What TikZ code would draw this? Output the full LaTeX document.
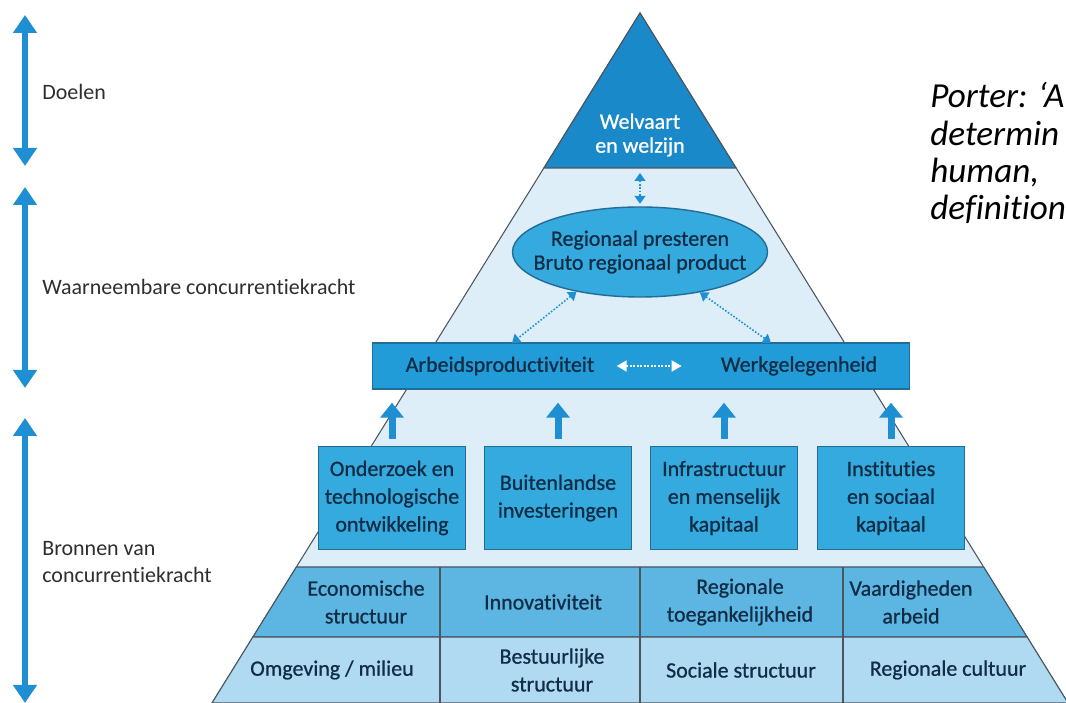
\documentclass[tikz,border=0pt]{standalone}
\usepackage{fontspec}
\setmainfont{Carlito}[Ligatures=NoCommon]
\newfontfamily\diagfont{Carlito}[Ligatures=NoCommon,FakeBold=0.8]
\usetikzlibrary{arrows.meta,positioning,shapes.geometric}
\definecolor{arr}{HTML}{1E8FD2}
\definecolor{topb}{HTML}{1A89CA}
\definecolor{boxb}{HTML}{35AADF}
\definecolor{barb}{HTML}{229CD8}
\definecolor{band}{HTML}{DDEEF8}
\definecolor{rowa}{HTML}{5DB5E1}
\definecolor{rowb}{HTML}{AFDAF1}
\definecolor{ink}{HTML}{112C45}
\definecolor{edge}{HTML}{4A5560}
\definecolor{boxedge}{HTML}{236C98}
\definecolor{lbl}{HTML}{2E2E2E}

\tikzset{
  dtext/.style={font=\diagfont\fontsize{12.5}{15.8}\selectfont,text=ink,align=center,inner sep=0pt},
  tight/.style={font=\diagfont\fontsize{12.5}{13.6}\selectfont},
  srcbox/.style={dtext,draw=boxedge,fill=boxb,line width=0.8pt,
    minimum width=29.4mm,minimum height=20.6mm},
  sidelbl/.style={font=\fontsize{12.5}{15}\selectfont,text=lbl,anchor=west,align=left,inner sep=0pt},
  sidearr/.style={draw=arr,line width=1.3mm,{Triangle[width=4.6mm,length=3.6mm]}-{Triangle[width=4.6mm,length=3.6mm]}},
  uparr/.style={draw=arr,line width=1.4mm,-{Triangle[width=4.6mm,length=3mm]}},
  linkarr/.style={draw=arr,line width=0.9pt,densely dotted,
    {Triangle[width=2.2mm,length=1.6mm]}-{Triangle[width=2.2mm,length=1.6mm]}},
  whitearr/.style={draw=white,line width=1pt,densely dotted,
    {Triangle[width=2.2mm,length=2mm]}-{Triangle[width=2.2mm,length=2mm]}},
  quote/.style={font=\fontsize{20}{22}\selectfont\itshape,anchor=base west,inner sep=0pt},
}

\begin{document}
\begin{tikzpicture}[x=0.2mm,y=-0.2mm]
  \useasboundingbox (0,0) rectangle (1066,703);
  \clip (0,0) rectangle (1066,703);

  % Left: levels
  \coordinate (a1t) at (25,15);  \coordinate (a1b) at (25,166);
  \coordinate (a2t) at (25,187); \coordinate (a2b) at (25,388);
  \coordinate (a3t) at (25,418); \coordinate (a3b) at (25,703);
  \draw[sidearr] (a1t) -- (a1b);
  \draw[sidearr] (a2t) -- (a2b);
  \draw[sidearr] (a3t) -- (a3b);
  \node[sidelbl] (doel) at (42,92) {Doelen};
  \node[sidelbl] (waarn) at (42,287) {Waarneembare concurrentiekracht};
  \node[sidelbl] (bron) at (42,562) {Bronnen van\\concurrentiekracht};

  % Pyramid
  \fill[band] (640,13) -- (212,703) -- (1068,703) -- cycle;
  \draw[edge,line width=0.6pt] (212,703) -- (640,13) -- (1068,703);
  \filldraw[fill=topb,draw=edge,line width=0.6pt] (640,13) -- (544,168) -- (736,168) -- cycle;
  \coordinate (topbase) at (640,168);
  \node[dtext,tight,text=white] (welv) at (640,135) {Welvaart\\en welzijn};

  \filldraw[fill=rowa,draw=edge,line width=0.6pt]
    (296.4,567) -- (983.6,567) -- (1027.1,637) -- (252.9,637) -- cycle;
  \filldraw[fill=rowb,draw=edge,line width=0.6pt]
    (252.9,637) -- (1027.1,637) -- (1068,703) -- (212,703) -- cycle;
  \draw[edge,line width=0.6pt] (440,567) -- (440,703) (640,567) -- (640,703) (843,567) -- (843,703);

  \node[dtext] (econ) at (366,602) {Economische\\structuur};
  \node[dtext] (innov) at (543,602) {Innovativiteit};
  \node[dtext] (toeg) at (740,602) {Regionale\\toegankelijkheid};
  \node[dtext] (vaard) at (911,602) {Vaardigheden\\arbeid};
  \node[dtext] (omg) at (332,670) {Omgeving / milieu};
  \node[dtext] (best) at (552,670) {Bestuurlijke\\structuur};
  \node[dtext] (soc) at (741,670) {Sociale structuur};
  \node[dtext] (cult) at (948,670) {Regionale cultuur};

  % Performance
  \node[ellipse,draw=boxedge,fill=boxb,line width=0.8pt,inner sep=0pt,
        minimum width=51mm,minimum height=18mm] (ell) at (640,252) {};
  \node[dtext,tight] (elltxt) at (ell.center) {Regionaal presteren\\Bruto regionaal product};
  \draw[linkarr,shorten <=1mm,shorten >=0.5mm] (topbase) -- (ell.north);

  \node[draw=boxedge,fill=barb,line width=0.8pt,minimum width=107.4mm,
        minimum height=9.2mm,inner sep=0pt] (bar) at (641,366) {};
  \node[dtext] (arbeid) at (500,366) {Arbeidsproductiviteit};
  \node[dtext] (werk) at (799,366) {Werkgelegenheid};
  \draw[whitearr,shorten <=4.4mm,shorten >=7.8mm] (arbeid.east) -- (werk.west);

  \coordinate (pl) at (512,343);
  \coordinate (pr) at (771,343);
  \draw[linkarr] (ell.212) -- (pl);
  \draw[linkarr] (ell.326) -- (pr);

  % Sources
  \node[srcbox] (b1) at (392,498) {Onderzoek en\\technologische\\ontwikkeling};
  \node[srcbox] (b2) at (558,498) {Buitenlandse\\investeringen};
  \node[srcbox] (b3) at (724,498) {Infrastructuur\\en menselijk\\kapitaal};
  \node[srcbox] (b4) at (891,498) {Instituties\\en sociaal\\kapitaal};
  \draw[uparr,shorten <=1.4mm,shorten >=2.6mm] (b1.north) -- (b1.north |- bar.south);
  \draw[uparr,shorten <=1.4mm,shorten >=2.6mm] (b2.north) -- (b2.north |- bar.south);
  \draw[uparr,shorten <=1.4mm,shorten >=2.6mm] (b3.north) -- (b3.north |- bar.south);
  \draw[uparr,shorten <=1.4mm,shorten >=2.6mm] (b4.north) -- (b4.north |- bar.south);

  % Right: quote
  \node[quote] (p1) at (930,108) {Porter: ‘A};
  \node[quote] (p2) at (930,146) {determin};
  \node[quote] (p3) at (930,183) {human,};
  \node[quote] (p4) at (930,220) {definition};
\end{tikzpicture}
\end{document}
